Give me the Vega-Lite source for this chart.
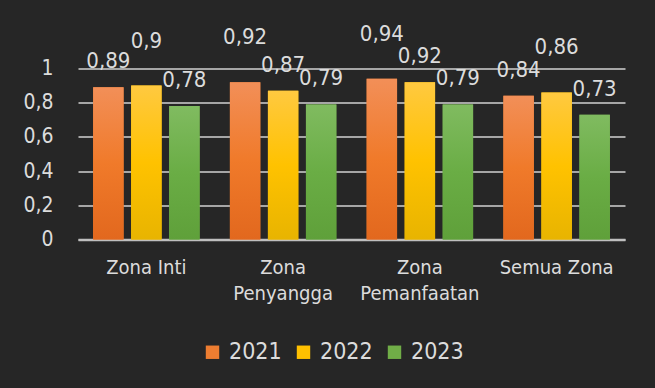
{
  "$schema": "https://vega.github.io/schema/vega-lite/v6.json",
  "width": 547,
  "height": 171,
  "autosize": {"type": "none"},
  "padding": {"left": 78, "top": 68.5, "right": 30, "bottom": 148.5},
  "background": "#262626",
  "config": {
    "view": {"stroke": null},
    "font": "DejaVu Sans Condensed",
    "locale": {"number": {"decimal": ",", "thousands": ".", "grouping": [3], "currency": ["", ""]}}
  },
  "data": {
    "values": [
      {"zona": "Zona Inti", "tahun": "2021", "nilai": 0.89},
      {"zona": "Zona Inti", "tahun": "2022", "nilai": 0.9},
      {"zona": "Zona Inti", "tahun": "2023", "nilai": 0.78},
      {"zona": "Zona Penyangga", "tahun": "2021", "nilai": 0.92},
      {"zona": "Zona Penyangga", "tahun": "2022", "nilai": 0.87},
      {"zona": "Zona Penyangga", "tahun": "2023", "nilai": 0.79},
      {"zona": "Zona Pemanfaatan", "tahun": "2021", "nilai": 0.94},
      {"zona": "Zona Pemanfaatan", "tahun": "2022", "nilai": 0.92},
      {"zona": "Zona Pemanfaatan", "tahun": "2023", "nilai": 0.79},
      {"zona": "Semua Zona", "tahun": "2021", "nilai": 0.84},
      {"zona": "Semua Zona", "tahun": "2022", "nilai": 0.86},
      {"zona": "Semua Zona", "tahun": "2023", "nilai": 0.73}
    ]
  },
  "encoding": {
    "x": {
      "field": "zona", "type": "nominal",
      "sort": ["Zona Inti", "Zona Penyangga", "Zona Pemanfaatan", "Semua Zona"],
      "scale": {"paddingInner": 0.166, "paddingOuter": 0.083},
      "axis": {
        "title": null, "labelAngle": 0, "ticks": false,
        "domain": true, "domainColor": "#bfbfbf", "domainWidth": 2.5,
        "labelPadding": 18, "labelFontSize": 20, "labelColor": "#dcdcdc",
        "labelLineHeight": 26, "labelBaseline": "top",
        "labelExpr": "datum.label == 'Zona Penyangga' ? ['Zona', 'Penyangga'] : datum.label == 'Zona Pemanfaatan' ? ['Zona', 'Pemanfaatan'] : datum.label"
      }
    },
    "xOffset": {
      "field": "tahun", "type": "nominal",
      "scale": {"paddingInner": 0.2, "paddingOuter": 0.1}
    },
    "y": {
      "field": "nilai", "type": "quantitative",
      "scale": {"domain": [0, 1]},
      "axis": {
        "title": null, "values": [0, 0.2, 0.4, 0.6, 0.8, 1], "format": "~g",
        "domain": false, "ticks": false, "labelPadding": 25,
        "labelFontSize": 21, "labelColor": "#dcdcdc",
        "grid": true, "gridColor": "#a6a6a6", "gridWidth": 1.8
      }
    }
  },
  "layer": [
    {
      "mark": {"type": "bar"},
      "encoding": {
        "color": {
          "field": "tahun", "type": "nominal",
          "scale": {"range": ["#ed7d31", "#ffc000", "#70ad47"]},
          "legend": {
            "orient": "none", "legendX": 123, "legendY": 272,
            "direction": "horizontal", "title": null,
            "symbolType": "square", "symbolSize": 180, "symbolStrokeWidth": 0,
            "labelFontSize": 23, "labelColor": "#dcdcdc",
            "columnPadding": 10, "labelOffset": 5
          }
        }
      }
    },
    {
      "transform": [{"filter": "datum.tahun == '2021'"}],
      "mark": {"type": "bar", "color": {"gradient": "linear", "x1": 0, "y1": 0, "x2": 0, "y2": 1,
        "stops": [{"offset": 0, "color": "#f28f58"}, {"offset": 0.5, "color": "#f07a2a"}, {"offset": 1, "color": "#e2681e"}]}}
    },
    {
      "transform": [{"filter": "datum.tahun == '2022'"}],
      "mark": {"type": "bar", "color": {"gradient": "linear", "x1": 0, "y1": 0, "x2": 0, "y2": 1,
        "stops": [{"offset": 0, "color": "#ffc940"}, {"offset": 0.5, "color": "#ffc200"}, {"offset": 1, "color": "#e8b400"}]}}
    },
    {
      "transform": [{"filter": "datum.tahun == '2023'"}],
      "mark": {"type": "bar", "color": {"gradient": "linear", "x1": 0, "y1": 0, "x2": 0, "y2": 1,
        "stops": [{"offset": 0, "color": "#80bb60"}, {"offset": 0.5, "color": "#6aad45"}, {"offset": 1, "color": "#5fa03a"}]}}
    },
    {
      "transform": [{"filter": "!((datum.zona == 'Zona Inti' && datum.tahun == '2022') || (datum.zona == 'Zona Penyangga' && datum.tahun == '2021') || (datum.zona == 'Zona Pemanfaatan' && datum.tahun == '2021') || (datum.zona == 'Semua Zona' && datum.tahun == '2022'))"}],
      "mark": {"type": "text", "dy": -19, "baseline": "alphabetic", "fontSize": 22, "color": "#dcdcdc"},
      "encoding": {"text": {"field": "nilai", "type": "quantitative", "format": "~g"}}
    },
    {
      "transform": [{"filter": "(datum.zona == 'Zona Inti' && datum.tahun == '2022') || (datum.zona == 'Zona Penyangga' && datum.tahun == '2021') || (datum.zona == 'Zona Pemanfaatan' && datum.tahun == '2021') || (datum.zona == 'Semua Zona' && datum.tahun == '2022')"}],
      "mark": {"type": "text", "dy": -38, "baseline": "alphabetic", "fontSize": 22, "color": "#dcdcdc"},
      "encoding": {"text": {"field": "nilai", "type": "quantitative", "format": "~g"}}
    }
  ]
}
